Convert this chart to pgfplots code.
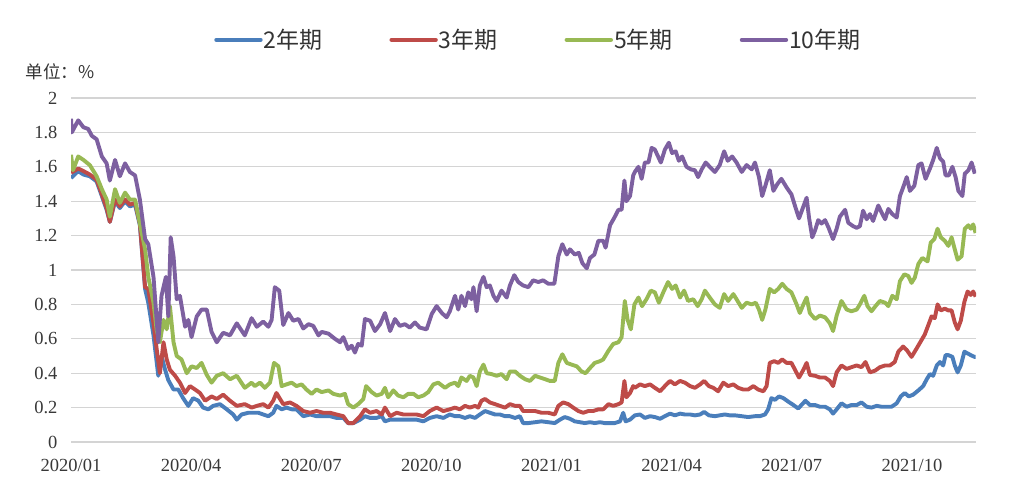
\documentclass[border=0pt]{standalone}
\usepackage{pgfplots}
\pgfplotsset{compat=1.18}
\usepackage{fontspec}
\setmainfont{Liberation Serif}
\newfontfamily\cjk{Noto Sans CJK SC}

\definecolor{cTwo}{HTML}{4A7EBB}
\definecolor{cThree}{HTML}{BE4B48}
\definecolor{cFive}{HTML}{98B954}
\definecolor{cTen}{HTML}{7D60A0}

\begin{document}
\begin{tikzpicture}
\path (0,0) rectangle (1024pt,484pt);
\node[anchor=west,font=\cjk\fontsize{17.5}{19}\selectfont,text=black!80] at (22pt,412pt) {单位：\%};
\begin{axis}[
  at={(71pt,42pt)}, anchor=south west,
  scale only axis, width=905pt, height=344pt,
  xmin=0, xmax=22.6, ymin=0, ymax=2,
  ytick={0,0.2,...,2.01},
  xtick={0,3,6,9,12,15,18,21},
  xticklabels={2020/01,2020/04,2020/07,2020/10,2021/01,2021/04,2021/07,2021/10},
  axis line style={draw=none},
  major tick length=0pt,
  ymajorgrids,
  major grid style={color=black!17, line width=1.3pt},
  tick label style={font=\fontsize{18.5}{20}\selectfont, text=black!78},
  /pgf/number format/assume math mode=true,
  xticklabel style={yshift=-14pt},
  yticklabel style={xshift=-10pt},
  every axis plot/.append style={line width=3.9pt, line join=round, no markers},
  legend columns=4,
  legend style={draw=none, fill=none, at={(0.516,1.169)}, anchor=center,
    font=\cjk\fontsize{23}{25}\selectfont, text=black!80,
    nodes={inner xsep=1pt},
    /tikz/every even column/.append style={column sep=66pt}},
  legend image code/.code={\draw[#1, line width=4.4pt, line cap=round] (6pt,0pt) -- (50pt,0pt);},
]
\addplot[cTwo] coordinates {
(0.00,1.535) (0.18,1.575) (0.31,1.555) (0.47,1.545) (0.64,1.515) (0.77,1.43) (0.89,1.35) (0.97,1.28) (1.10,1.40) (1.22,1.36) (1.35,1.40) (1.47,1.37) (1.60,1.38) (1.72,1.26) (1.85,0.89) (1.93,0.81) (2.06,0.62) (2.18,0.385) (2.26,0.50) (2.35,0.42) (2.43,0.36) (2.56,0.305) (2.68,0.305) (2.80,0.255) (2.93,0.21) (3.05,0.255) (3.18,0.24) (3.30,0.20) (3.43,0.19) (3.55,0.21) (3.72,0.22) (3.89,0.19) (4.05,0.16) (4.14,0.13) (4.26,0.16) (4.43,0.17) (4.68,0.17)
(4.80,0.16) (4.93,0.15) (5.05,0.17) (5.13,0.21) (5.26,0.19) (5.38,0.20) (5.51,0.19) (5.63,0.19) (5.80,0.15) (5.97,0.16) (6.13,0.15) (6.30,0.15) (6.47,0.15) (6.63,0.14) (6.80,0.14) (6.92,0.11) (7.05,0.11) (7.22,0.13) (7.34,0.15) (7.47,0.14) (7.63,0.14) (7.76,0.15) (7.84,0.12) (7.97,0.13) (8.13,0.13) (8.30,0.13) (8.46,0.13) (8.63,0.13) (8.80,0.12) (8.96,0.14) (9.13,0.15) (9.30,0.14) (9.46,0.16)
(9.59,0.15) (9.71,0.15) (9.84,0.14) (9.96,0.15) (10.09,0.14) (10.21,0.16) (10.34,0.18) (10.46,0.17) (10.59,0.16) (10.71,0.16) (10.84,0.15) (10.96,0.15) (11.09,0.14) (11.21,0.15) (11.29,0.11) (11.42,0.11) (11.59,0.115) (11.75,0.12) (11.92,0.115) (12.08,0.11) (12.21,0.13) (12.33,0.145) (12.46,0.135) (12.58,0.12) (12.71,0.115) (12.83,0.11) (12.96,0.115) (13.08,0.11) (13.21,0.115) (13.33,0.11) (13.46,0.11) (13.58,0.11) (13.71,0.12) (13.79,0.17) (13.85,0.12) (13.96,0.13) (14.08,0.155)
(14.21,0.16) (14.33,0.14) (14.46,0.15) (14.58,0.145) (14.71,0.135) (14.83,0.15) (14.96,0.165) (15.08,0.155) (15.21,0.165) (15.33,0.16) (15.46,0.16) (15.58,0.155) (15.71,0.16) (15.81,0.175) (15.93,0.155) (16.08,0.15) (16.20,0.155) (16.33,0.16) (16.45,0.155) (16.58,0.155) (16.75,0.15) (16.91,0.145) (17.08,0.15) (17.20,0.15) (17.33,0.16) (17.41,0.19) (17.49,0.255) (17.58,0.245) (17.68,0.265) (17.79,0.255) (17.91,0.235) (18.04,0.215) (18.16,0.195) (18.24,0.215) (18.34,0.24) (18.45,0.215)
(18.58,0.215) (18.70,0.205) (18.83,0.205) (18.95,0.19) (19.03,0.165) (19.12,0.19) (19.24,0.225) (19.37,0.205) (19.49,0.215) (19.62,0.215) (19.74,0.23) (19.87,0.205) (19.99,0.20) (20.12,0.21) (20.24,0.205) (20.37,0.205) (20.49,0.205) (20.62,0.225) (20.72,0.265) (20.82,0.285) (20.92,0.265) (21.03,0.275) (21.16,0.30) (21.28,0.325) (21.37,0.365) (21.45,0.395) (21.53,0.385) (21.62,0.445) (21.70,0.465) (21.78,0.445) (21.84,0.505) (21.91,0.505) (22.01,0.495) (22.07,0.445) (22.14,0.405) (22.22,0.445) (22.31,0.525) (22.39,0.515) (22.47,0.505) (22.56,0.495) (22.59,0.495)
};
\addlegendentry{2年期}
\addplot[cThree] coordinates {
(0.00,1.565) (0.18,1.59) (0.31,1.575) (0.47,1.555) (0.64,1.525) (0.77,1.44) (0.89,1.36) (0.97,1.28) (1.10,1.41) (1.22,1.37) (1.35,1.41) (1.47,1.38) (1.60,1.39) (1.72,1.27) (1.85,0.90) (1.93,0.89) (2.06,0.69) (2.14,0.54) (2.22,0.40) (2.31,0.58) (2.39,0.48) (2.47,0.42) (2.60,0.385) (2.72,0.345) (2.85,0.285) (2.97,0.325) (3.10,0.305) (3.22,0.285) (3.35,0.24) (3.51,0.265) (3.64,0.25) (3.80,0.275) (3.97,0.24) (4.14,0.21) (4.34,0.22) (4.51,0.20)
(4.64,0.21) (4.80,0.22) (4.93,0.20) (5.05,0.24) (5.13,0.285) (5.22,0.25) (5.30,0.22) (5.47,0.23) (5.63,0.21) (5.80,0.18) (5.97,0.17) (6.13,0.18) (6.30,0.17) (6.47,0.17) (6.63,0.16) (6.80,0.15) (6.92,0.11) (7.05,0.11) (7.22,0.15) (7.34,0.19) (7.47,0.17) (7.63,0.18) (7.76,0.16) (7.84,0.20) (7.97,0.15) (8.13,0.17) (8.30,0.16) (8.46,0.16) (8.63,0.16) (8.80,0.15) (8.96,0.18) (9.13,0.20) (9.30,0.18) (9.46,0.19)
(9.59,0.20) (9.71,0.19) (9.84,0.21) (9.96,0.20) (10.09,0.21) (10.17,0.20) (10.25,0.24) (10.34,0.25) (10.46,0.23) (10.59,0.22) (10.71,0.21) (10.84,0.20) (10.96,0.22) (11.09,0.21) (11.21,0.21) (11.29,0.18) (11.42,0.18) (11.59,0.18) (11.75,0.17) (11.92,0.17) (12.08,0.16) (12.17,0.21) (12.29,0.23) (12.42,0.22) (12.54,0.20) (12.67,0.18) (12.79,0.17) (12.92,0.18) (13.04,0.18) (13.17,0.19) (13.29,0.19) (13.42,0.22) (13.54,0.21) (13.67,0.22) (13.75,0.23) (13.82,0.355) (13.87,0.26) (13.96,0.285) (14.04,0.325)
(14.08,0.315) (14.21,0.335) (14.33,0.325) (14.46,0.335) (14.58,0.315) (14.71,0.295) (14.83,0.325) (14.96,0.355) (15.08,0.335) (15.21,0.355) (15.33,0.345) (15.46,0.325) (15.58,0.315) (15.71,0.335) (15.81,0.355) (15.93,0.325) (16.04,0.315) (16.16,0.295) (16.29,0.345) (16.41,0.325) (16.54,0.335) (16.66,0.315) (16.79,0.305) (16.91,0.305) (17.04,0.325) (17.16,0.305) (17.29,0.295) (17.37,0.325) (17.45,0.46) (17.56,0.47) (17.66,0.46) (17.76,0.48) (17.87,0.46) (17.99,0.46) (18.08,0.42) (18.18,0.375) (18.29,0.42) (18.37,0.46) (18.45,0.39)
(18.58,0.385) (18.70,0.375) (18.83,0.375) (18.95,0.355) (19.03,0.325) (19.12,0.405) (19.24,0.445) (19.37,0.425) (19.49,0.435) (19.62,0.445) (19.74,0.435) (19.84,0.465) (19.95,0.405) (20.08,0.415) (20.20,0.435) (20.33,0.445) (20.45,0.445) (20.57,0.465) (20.66,0.525) (20.78,0.555) (20.87,0.535) (20.99,0.495) (21.12,0.545) (21.22,0.585) (21.32,0.625) (21.41,0.68) (21.49,0.73) (21.57,0.72) (21.64,0.80) (21.72,0.765) (21.82,0.775) (21.91,0.765) (21.99,0.765) (22.07,0.695) (22.14,0.655) (22.22,0.705) (22.31,0.815) (22.39,0.875) (22.47,0.855) (22.53,0.875) (22.59,0.845)
};
\addlegendentry{3年期}
\addplot[cFive] coordinates {
(0.00,1.67) (0.05,1.58) (0.18,1.66) (0.31,1.64) (0.47,1.61) (0.64,1.545) (0.77,1.47) (0.89,1.41) (0.97,1.31) (1.10,1.47) (1.22,1.39) (1.35,1.45) (1.47,1.41) (1.60,1.41) (1.72,1.27) (1.85,1.12) (1.93,0.96) (2.06,0.81) (2.14,0.65) (2.22,0.58) (2.31,0.71) (2.39,0.655) (2.47,0.79) (2.56,0.58) (2.64,0.50) (2.76,0.48) (2.89,0.40) (3.01,0.44) (3.14,0.43) (3.26,0.46) (3.39,0.39) (3.51,0.345) (3.64,0.385) (3.80,0.40) (3.97,0.365) (4.14,0.385) (4.34,0.315) (4.51,0.345)
(4.59,0.325) (4.72,0.345) (4.84,0.315) (4.97,0.345) (5.07,0.46) (5.18,0.44) (5.26,0.325) (5.38,0.335) (5.51,0.345) (5.63,0.325) (5.76,0.335) (5.88,0.305) (6.01,0.28) (6.13,0.305) (6.26,0.29) (6.43,0.30) (6.55,0.28) (6.72,0.27) (6.84,0.28) (6.92,0.22) (7.05,0.20) (7.17,0.22) (7.30,0.25) (7.37,0.325) (7.51,0.29) (7.63,0.27) (7.76,0.28) (7.84,0.315) (7.92,0.26) (8.05,0.30) (8.17,0.27) (8.30,0.26) (8.42,0.28) (8.55,0.28) (8.67,0.26) (8.80,0.27) (8.92,0.29) (9.05,0.335) (9.17,0.345) (9.34,0.315) (9.46,0.335)
(9.59,0.345) (9.67,0.325) (9.75,0.375) (9.88,0.355) (9.96,0.385) (10.05,0.375) (10.13,0.325) (10.21,0.41) (10.30,0.45) (10.38,0.40) (10.50,0.395) (10.63,0.385) (10.75,0.395) (10.88,0.365) (10.96,0.41) (11.09,0.41) (11.21,0.385) (11.34,0.365) (11.46,0.355) (11.59,0.385) (11.71,0.375) (11.84,0.365) (11.96,0.355) (12.08,0.355) (12.17,0.46) (12.27,0.51) (12.38,0.46) (12.50,0.45) (12.63,0.44) (12.75,0.41) (12.85,0.40) (12.96,0.43) (13.08,0.46) (13.21,0.47) (13.29,0.48) (13.42,0.53) (13.54,0.57) (13.67,0.58) (13.75,0.61) (13.83,0.82) (13.90,0.71) (13.98,0.655) (14.07,0.80)
(14.17,0.84) (14.26,0.79) (14.37,0.83) (14.48,0.88) (14.58,0.87) (14.68,0.81) (14.79,0.87) (14.91,0.93) (15.01,0.89) (15.10,0.91) (15.21,0.84) (15.31,0.88) (15.41,0.82) (15.54,0.83) (15.65,0.79) (15.75,0.83) (15.83,0.88) (15.95,0.84) (16.08,0.80) (16.20,0.78) (16.31,0.86) (16.41,0.82) (16.54,0.86) (16.62,0.83) (16.75,0.78) (16.87,0.81) (17.00,0.80) (17.10,0.81) (17.18,0.77) (17.26,0.71) (17.34,0.77) (17.45,0.89) (17.56,0.87) (17.66,0.89) (17.76,0.92) (17.87,0.89) (17.99,0.87) (18.12,0.80) (18.20,0.75) (18.29,0.80) (18.37,0.84) (18.45,0.75)
(18.58,0.715) (18.70,0.735) (18.83,0.725) (18.95,0.69) (19.03,0.645) (19.12,0.735) (19.24,0.82) (19.37,0.77) (19.49,0.76) (19.62,0.77) (19.70,0.80) (19.81,0.85) (19.89,0.79) (19.99,0.76) (20.09,0.79) (20.20,0.82) (20.33,0.81) (20.41,0.79) (20.51,0.85) (20.62,0.83) (20.70,0.935) (20.81,0.975) (20.91,0.965) (20.99,0.925) (21.07,0.955) (21.16,1.035) (21.26,1.07) (21.39,1.05) (21.47,1.16) (21.56,1.18) (21.64,1.24) (21.72,1.19) (21.82,1.17) (21.91,1.14) (21.99,1.19) (22.07,1.12) (22.14,1.06) (22.24,1.08) (22.32,1.24) (22.41,1.26) (22.47,1.24) (22.53,1.265) (22.59,1.215)
};
\addlegendentry{5年期}
\addplot[cTen] coordinates {
(0.00,1.88) (0.02,1.80) (0.18,1.87) (0.31,1.83) (0.43,1.82) (0.52,1.78) (0.64,1.76) (0.77,1.66) (0.89,1.62) (0.97,1.52) (1.10,1.64) (1.22,1.545) (1.35,1.62) (1.47,1.57) (1.60,1.55) (1.72,1.41) (1.85,1.18) (1.93,1.15) (2.06,0.96) (2.18,0.58) (2.26,0.85) (2.37,0.96) (2.43,0.73) (2.49,1.19) (2.56,1.08) (2.64,0.83) (2.72,0.85) (2.85,0.67) (2.93,0.71) (3.01,0.61) (3.14,0.73) (3.26,0.77) (3.39,0.77) (3.51,0.64) (3.64,0.58) (3.80,0.635) (3.97,0.62) (4.14,0.69) (4.34,0.62) (4.51,0.72)
(4.64,0.67) (4.80,0.70) (4.93,0.67) (5.01,0.71) (5.09,0.90) (5.20,0.88) (5.30,0.68) (5.43,0.75) (5.55,0.705) (5.68,0.715) (5.80,0.66) (5.93,0.685) (6.05,0.675) (6.18,0.62) (6.26,0.64) (6.43,0.63) (6.59,0.60) (6.72,0.58) (6.80,0.61) (6.92,0.54) (7.01,0.56) (7.09,0.52) (7.17,0.57) (7.26,0.56) (7.34,0.715) (7.47,0.705) (7.59,0.645) (7.72,0.685) (7.84,0.75) (7.97,0.645) (8.09,0.715) (8.21,0.675) (8.34,0.685) (8.46,0.665) (8.59,0.695) (8.71,0.665) (8.88,0.655) (9.01,0.745) (9.13,0.79) (9.26,0.75) (9.38,0.725) (9.46,0.76)
(9.59,0.85) (9.67,0.77) (9.75,0.85) (9.84,0.79) (9.92,0.87) (10.00,0.83) (10.05,0.90) (10.13,0.76) (10.21,0.91) (10.30,0.96) (10.38,0.90) (10.46,0.91) (10.55,0.85) (10.63,0.82) (10.75,0.88) (10.88,0.84) (10.96,0.91) (11.07,0.97) (11.17,0.93) (11.29,0.91) (11.42,0.90) (11.54,0.94) (11.67,0.93) (11.79,0.94) (11.92,0.92) (12.07,0.92) (12.17,1.08) (12.27,1.15) (12.38,1.09) (12.46,1.12) (12.58,1.09) (12.68,1.10) (12.77,1.04) (12.88,1.01) (12.96,1.07) (13.07,1.09) (13.17,1.17) (13.29,1.17) (13.35,1.13) (13.46,1.26) (13.57,1.305) (13.67,1.35) (13.75,1.35) (13.82,1.52) (13.87,1.40) (13.96,1.43) (14.04,1.55)
(14.08,1.57) (14.17,1.60) (14.25,1.53) (14.33,1.625) (14.42,1.625) (14.50,1.71) (14.58,1.70) (14.66,1.66) (14.73,1.625) (14.83,1.70) (14.93,1.74) (15.01,1.68) (15.10,1.69) (15.18,1.635) (15.26,1.66) (15.37,1.60) (15.48,1.585) (15.58,1.58) (15.66,1.54) (15.75,1.585) (15.85,1.625) (15.95,1.60) (16.08,1.57) (16.20,1.61) (16.31,1.69) (16.40,1.635) (16.51,1.66) (16.62,1.625) (16.75,1.57) (16.87,1.61) (17.00,1.585) (17.08,1.625) (17.18,1.54) (17.26,1.43) (17.34,1.49) (17.45,1.58) (17.54,1.46) (17.64,1.50) (17.74,1.53) (17.87,1.48) (17.99,1.44) (18.09,1.365) (18.18,1.30) (18.29,1.37) (18.37,1.42) (18.43,1.305) (18.51,1.19)
(18.58,1.23) (18.66,1.29) (18.74,1.27) (18.83,1.29) (18.91,1.25) (19.03,1.18) (19.12,1.24) (19.20,1.31) (19.33,1.35) (19.41,1.275) (19.53,1.255) (19.62,1.245) (19.70,1.255) (19.78,1.345) (19.87,1.295) (19.95,1.325) (20.03,1.285) (20.16,1.375) (20.24,1.335) (20.33,1.295) (20.41,1.355) (20.51,1.325) (20.62,1.305) (20.70,1.43) (20.78,1.48) (20.87,1.54) (20.95,1.46) (21.06,1.49) (21.16,1.61) (21.24,1.62) (21.34,1.53) (21.45,1.59) (21.53,1.64) (21.62,1.71) (21.70,1.65) (21.78,1.63) (21.84,1.55) (21.92,1.55) (22.01,1.60) (22.09,1.54) (22.16,1.46) (22.26,1.43) (22.32,1.56) (22.41,1.58) (22.49,1.625) (22.57,1.56)
};
\addlegendentry{10年期}
\end{axis}
\end{tikzpicture}
\end{document}
